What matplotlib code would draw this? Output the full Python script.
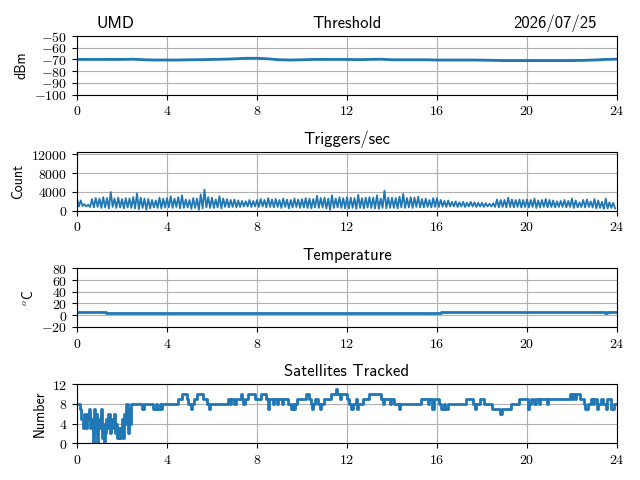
import matplotlib
matplotlib.use('Agg')
import matplotlib.pyplot as plt
import matplotlib.ticker as mticker
import numpy as np

plt.rcParams['font.family'] = 'cmss10'
plt.rcParams['mathtext.fontset'] = 'cm'

station = 'UMD'
date_str = '2026/07/25'
hour_ticks = [0, 4, 8, 12, 16, 20, 24]

# threshold, every half hour
thr_t = np.arange(0, 24.01, 0.5)
thr_v = [-70, -70, -70, -70, -70, -69.8, -70.3, -70.5, -70.5, -70.5,
         -70.3, -70.2, -70, -69.8, -69.5, -69, -69, -69.5, -70.3, -70.5,
         -70.3, -70, -70, -70, -70, -70.2, -70, -69.8, -70.3, -70.3,
         -70.3, -70.3, -70.5, -70.5, -70.5, -70.5, -70.6, -70.8, -71, -71,
         -71, -71, -71, -71, -71, -70.8, -70.5, -70, -69.8]

# triggers/sec, high and low readings per 10 min slot (one row = 2 hours)
trig_hi = [2600, 2200, 1400, 1300, 2500, 2700, 2600, 2900, 2700, 4000, 2600, 2800,
           2500, 2700, 2600, 2900, 3700, 2800, 2600, 2500, 2300, 2200, 2800, 2600,
           2700, 3100, 2600, 2900, 3300, 2400, 2300, 2700, 2600, 3500, 4500, 2900,
           2800, 2400, 3100, 2600, 2500, 2300, 2400, 2200, 2100, 2000, 2300, 2100,
           2300, 2500, 2300, 2700, 2400, 2500, 2300, 2600, 2400, 2300, 2600, 2400,
           2500, 2700, 2600, 2500, 3200, 2700, 2800, 2600, 3300, 2600, 2900, 2700,
           2900, 2800, 2700, 3400, 2700, 2800, 2900, 2800, 3300, 2600, 4300, 2800,
           2800, 2700, 3000, 3600, 2700, 2900, 2800, 3000, 2500, 2600, 2300, 2700,
           2700, 2300, 2100, 2200, 1900, 2000, 1800, 1900, 1700, 1900, 1800, 1700,
           1700, 1600, 1500, 1600, 2400, 2300, 2300, 2800, 2400, 2300, 2400, 2300,
           2400, 2300, 2600, 2200, 2300, 2500, 2300, 2200, 2000, 2100, 2300, 2100,
           2600, 2200, 1800, 2300, 2400, 2000, 2500, 2200, 1900, 2600, 1800, 1700]
trig_lo = [900, 1000, 900, 800, 700, 800, 600, 700, 500, 800, 600, 700,
           500, 700, 600, 500, 300, 600, 200, 500, 700, 600, 500, 700,
           700, 600, 800, 500, 600, 700, 400, 600, 200, 500, 700, 600,
           600, 700, 500, 800, 700, 800, 700, 800, 900, 900, 800, 900,
           800, 900, 700, 800, 700, 800, 600, 800, 500, 700, 800, 600,
           700, 600, 500, 700, 600, 700, 500, 200, 600, 700, 600, 500,
           500, 600, 400, 600, 500, 700, 600, 500, 400, 600, 500, 600,
           600, 500, 700, 600, 700, 600, 800, 700, 700, 800, 700, 800,
           800, 900, 800, 900, 900, 800, 900, 800, 900, 900, 800, 900,
           800, 900, 900, 800, 700, 800, 700, 800, 700, 800, 700, 800,
           700, 800, 600, 700, 800, 700, 800, 700, 800, 800, 700, 800,
           600, 700, 800, 700, 800, 700, 500, 600, 400, 500, 600, 500]

# temperature (steps)
temp_t = [0, 1.3, 16.2, 23.45, 23.55, 24]
temp_v = [6, 4, 6, 3, 6, 6]

# satellites tracked (change points)
sat_t = [0.0, 0.15, 0.2, 0.25, 0.3, 0.35, 0.4, 0.45, 0.5, 0.55, 0.6, 0.65, 0.7, 0.75,
         0.8, 0.85, 0.9, 0.95, 1.0, 1.05, 1.1, 1.15, 1.2, 1.25, 1.3, 1.35, 1.4, 1.45,
         1.5, 1.55, 1.6, 1.65, 1.7, 1.75, 1.8, 1.85, 1.9, 1.95, 2.0, 2.05, 2.1, 2.15,
         2.2, 2.25, 2.3, 2.35, 2.4, 2.9, 3.0, 3.4, 3.5, 3.55, 3.7, 3.75, 3.8, 4.5,
         4.65, 4.9, 4.95, 5.05, 5.1, 5.2, 5.35, 5.6, 5.8, 5.85, 5.9, 6.7, 6.8, 6.85,
         7.0, 7.05, 7.3, 7.35, 7.4, 7.45, 7.6, 7.9, 8.2, 8.4, 8.5, 8.55, 8.7, 8.75,
         8.9, 8.95, 9.1, 9.15, 9.4, 9.5, 9.6, 9.65, 9.7, 9.8, 10.2, 10.3, 10.4, 10.45,
         10.5, 10.6, 10.7, 10.8, 10.85, 11.0, 11.3, 11.5, 11.55, 11.7, 11.75, 12.0,
         12.1, 12.2, 12.25, 12.4, 12.45, 12.5, 12.7, 13.0, 13.5, 13.6, 13.65, 13.9,
         13.95, 14.1, 14.3, 14.35, 15.3, 15.6, 15.65, 15.8, 15.85, 16.1, 16.2, 16.3,
         16.35, 16.5, 17.3, 17.6, 17.7, 17.75, 17.9, 18.1, 18.45, 18.8, 18.9, 19.3,
         19.65, 20.05, 20.1, 20.2, 20.3, 20.4, 20.55, 20.6, 20.9, 20.95, 21.9, 22.0,
         22.05, 22.15, 22.2, 22.35, 22.55, 22.6, 22.7, 22.85, 22.95, 23.0, 23.1, 23.15,
         23.3, 23.4, 23.5, 23.55, 23.75, 23.85, 24.0]
sat_v = [8, 7, 5, 3, 6, 4, 3, 6, 5, 7, 3, 5, 0, 7,
         2, 6, 0, 5, 3, 7, 1, 4, 0, 2, 5, 3, 6, 2,
         4, 5, 3, 6, 2, 4, 1, 3, 1, 3, 5, 1, 6, 4,
         8, 2, 7, 4, 8, 7, 8, 7, 8, 7, 8, 7, 8, 9,
         10, 9, 8, 7, 8, 9, 10, 9, 8, 7, 8, 9, 8, 9,
         8, 9, 10, 9, 8, 9, 10, 9, 10, 9, 7, 9, 8, 9,
         8, 9, 8, 9, 8, 7, 8, 7, 8, 9, 10, 9, 8, 7,
         8, 9, 8, 7, 8, 9, 10, 11, 10, 9, 10, 9,
         8, 7, 8, 9, 7, 8, 9, 10, 9, 8, 9, 8,
         9, 8, 7, 8, 9, 8, 9, 7, 9, 8, 7, 8,
         7, 8, 9, 8, 7, 8, 9, 8, 7, 6, 7, 8,
         9, 7, 8, 9, 8, 9, 8, 9, 8, 9, 10, 9,
         10, 9, 10, 9, 8, 7, 8, 9, 8, 9, 7, 8,
         9, 8, 7, 9, 7, 8, 8]

# interleave high/low trigger readings
step = 24.0 / len(trig_hi)
slot = np.arange(len(trig_hi)) * step
trig_t = np.empty(2 * len(slot))
trig_t[0::2] = slot
trig_t[1::2] = slot + step / 2
trig_v = np.empty(2 * len(slot))
trig_v[0::2] = trig_hi
trig_v[1::2] = trig_lo

fig, axs = plt.subplots(4, 1, figsize=(6.4, 4.8), dpi=100)
fig.subplots_adjust(left=0.1203, right=0.964, top=0.925, bottom=0.077, hspace=0.983)

tex_fmt = mticker.FuncFormatter(lambda v, pos: f'${v:g}$')

axs[0].plot(thr_t, thr_v, lw=2)
axs[0].set_ylim(-100, -50)
axs[0].set_yticks([-100, -90, -80, -70, -60, -50])
axs[0].set_ylabel('dBm')
axs[0].set_title('Threshold', fontsize=12)
axs[0].annotate(station, xy=(0.037, 1), xycoords='axes fraction', xytext=(0, 6),
                textcoords='offset points', ha='left', va='baseline', fontsize=12)
axs[0].annotate(date_str, xy=(0.963, 1), xycoords='axes fraction', xytext=(0, 6),
                textcoords='offset points', ha='right', va='baseline', fontsize=12)

axs[1].plot(trig_t, trig_v, lw=1.3)
axs[1].set_ylim(0, 12500)
axs[1].set_yticks([0, 4000, 8000, 12000])
axs[1].set_ylabel('Count')
axs[1].set_title('Triggers/sec', fontsize=12)

axs[2].plot(temp_t, temp_v, drawstyle='steps-post', lw=2)
axs[2].set_ylim(-20, 80)
axs[2].set_yticks([-20, 0, 20, 40, 60, 80])
axs[2].set_ylabel(r'$^o$C')
axs[2].set_title('Temperature', fontsize=12)

axs[3].plot(sat_t, sat_v, drawstyle='steps-post', lw=2)
axs[3].set_ylim(0, 12)
axs[3].set_yticks([0, 4, 8, 12])
axs[3].set_ylabel('Number')
axs[3].set_title('Satellites Tracked', fontsize=12)

for ax in axs:
    ax.set_xlim(0, 24)
    ax.set_xticks(hour_ticks)
    ax.xaxis.set_major_formatter(tex_fmt)
    ax.yaxis.set_major_formatter(tex_fmt)
    ax.grid(True)

plt.savefig('out.png', dpi=100)
